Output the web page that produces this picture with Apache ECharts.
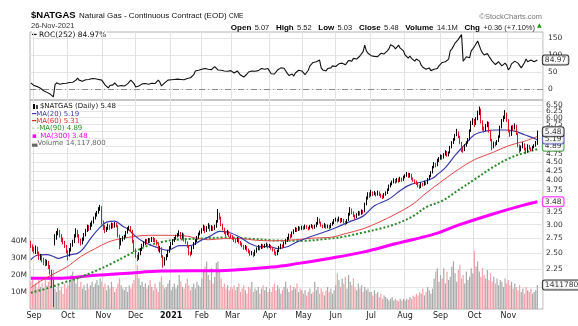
<!DOCTYPE html>
<html><head><meta charset="utf-8">
<script src="https://cdn.jsdelivr.net/npm/echarts/dist/echarts.min.js"></script>
<style>html,body{margin:0;padding:0;background:#fff}#c{width:578px;height:326px}</style>
</head><body><div id="c"></div>
<script>
// ---- categories (trading days per month, Aug-2020 .. Nov-2021) ----
const monthLabels = ['Aug','Sep','Oct','Nov','Dec','2021','Feb','Mar','Apr','May','Jun','Jul','Aug','Sep','Oct','Nov'];
const tradingDays = [2,21,22,20,22,19,19,23,21,20,22,21,22,21,21,19];
const padDays = 3;

// ---- daily candles: [open, high, low, close] ----
const ohlc = [
[2.66,2.70,2.58,2.62],[2.60,2.64,2.52,2.55],[2.56,2.60,2.49,2.52],[2.50,2.62,2.48,2.58],[2.58,2.60,2.47,2.50],
[2.49,2.52,2.39,2.42],[2.41,2.48,2.38,2.45],[2.46,2.47,2.35,2.38],[2.39,2.42,2.31,2.35],[2.36,2.40,2.29,2.32],
[2.31,2.39,2.30,2.36],[2.35,2.37,2.25,2.28],[2.29,2.31,2.17,2.22],[2.20,2.24,2.00,2.05],[2.06,2.10,1.76,1.88],
[2.66,2.82,2.62,2.78],[2.76,2.88,2.72,2.85],[2.84,2.93,2.80,2.88],[2.87,2.90,2.76,2.80],[2.79,2.82,2.68,2.72],
[2.73,2.76,2.64,2.68],[2.67,2.70,2.58,2.62],[2.61,2.63,2.49,2.52],[2.51,2.54,2.38,2.45],[2.46,2.58,2.44,2.55],
[2.56,2.66,2.52,2.62],[2.63,2.72,2.60,2.68],[2.70,2.82,2.66,2.78],[2.79,2.93,2.76,2.88],[2.87,2.90,2.76,2.80],
[2.78,2.82,2.66,2.70],[2.71,2.74,2.62,2.66],[2.67,2.76,2.64,2.72],[2.73,2.84,2.70,2.80],[2.81,2.92,2.78,2.88],
[2.89,3.00,2.86,2.96],[2.95,2.99,2.88,2.92],[2.93,3.04,2.90,3.00],[3.01,3.08,2.96,3.05],[3.06,3.16,3.02,3.12],
[3.13,3.24,3.10,3.20],[3.21,3.28,3.16,3.25],[3.26,3.36,3.22,3.32],[3.33,3.41,3.28,3.36],[3.35,3.38,3.00,3.05],
[3.04,3.08,2.90,2.95],[2.96,2.99,2.84,2.88],[2.89,2.96,2.86,2.92],[2.93,3.02,2.90,2.98],[2.97,3.00,2.90,2.94],
[2.95,3.04,2.92,3.00],[3.00,3.03,2.93,2.96],[2.97,3.05,2.94,3.02],[3.01,3.04,2.95,2.98],[2.97,2.99,2.76,2.80],
[2.78,2.81,2.56,2.62],[2.64,2.75,2.62,2.72],[2.72,2.79,2.69,2.76],[2.77,2.81,2.72,2.78],[2.79,2.88,2.76,2.85],
[2.86,2.95,2.83,2.92],[2.93,2.98,2.89,2.95],[2.94,2.97,2.86,2.90],[2.88,2.90,2.66,2.70],[2.69,2.72,2.51,2.55],
[2.54,2.57,2.42,2.45],[2.44,2.47,2.37,2.40],[2.41,2.51,2.39,2.48],[2.49,2.58,2.46,2.55],[2.56,2.65,2.53,2.62],
[2.63,2.69,2.60,2.66],[2.67,2.73,2.63,2.70],[2.71,2.73,2.64,2.68],[2.68,2.75,2.66,2.72],[2.73,2.75,2.66,2.70],
[2.71,2.77,2.68,2.74],[2.75,2.77,2.68,2.72],[2.73,2.75,2.67,2.70],[2.71,2.72,2.62,2.65],[2.64,2.66,2.52,2.55],
[2.54,2.61,2.50,2.58],[2.57,2.59,2.42,2.45],[2.44,2.46,2.27,2.32],[2.33,2.43,2.30,2.40],[2.41,2.48,2.38,2.45],
[2.46,2.55,2.43,2.52],[2.53,2.61,2.50,2.58],[2.59,2.68,2.56,2.65],[2.66,2.73,2.63,2.70],[2.71,2.77,2.68,2.74],
[2.75,2.81,2.72,2.78],[2.79,2.84,2.76,2.80],[2.81,2.89,2.78,2.85],[2.84,2.86,2.73,2.76],[2.77,2.85,2.74,2.82],
[2.81,2.83,2.69,2.72],[2.71,2.74,2.65,2.68],[2.67,2.69,2.58,2.62],[2.61,2.63,2.46,2.50],[2.49,2.52,2.44,2.48],
[2.49,2.61,2.47,2.58],[2.59,2.68,2.56,2.65],[2.66,2.73,2.63,2.70],[2.71,2.79,2.68,2.76],[2.77,2.85,2.74,2.82],
[2.83,2.89,2.80,2.86],[2.87,2.93,2.83,2.90],[2.91,3.00,2.88,2.96],[2.95,2.98,2.84,2.88],[2.89,2.97,2.86,2.94],
[2.95,3.03,2.92,2.98],[2.97,3.00,2.87,2.90],[2.91,2.99,2.88,2.95],[2.94,2.97,2.88,2.92],[2.93,3.00,2.90,2.96],
[2.97,3.09,2.94,3.05],[3.07,3.32,3.04,3.20],[3.19,3.24,3.10,3.15],[3.13,3.16,2.97,3.00],[2.99,3.02,2.89,2.92],
[2.91,2.94,2.82,2.85],[2.84,2.87,2.78,2.82],[2.83,2.90,2.80,2.86],[2.85,2.88,2.77,2.80],[2.79,2.82,2.74,2.78],
[2.77,2.80,2.72,2.76],[2.75,2.77,2.68,2.72],[2.71,2.74,2.66,2.70],[2.71,2.77,2.68,2.74],[2.73,2.75,2.65,2.68],
[2.67,2.70,2.62,2.66],[2.65,2.67,2.59,2.62],[2.61,2.63,2.55,2.58],[2.58,2.63,2.55,2.60],[2.59,2.61,2.52,2.55],
[2.54,2.57,2.49,2.52],[2.51,2.54,2.45,2.48],[2.49,2.53,2.46,2.50],[2.49,2.51,2.43,2.46],[2.47,2.55,2.45,2.52],
[2.53,2.59,2.50,2.56],[2.57,2.63,2.54,2.60],[2.59,2.62,2.54,2.58],[2.59,2.65,2.56,2.62],[2.61,2.64,2.57,2.60],
[2.61,2.65,2.58,2.62],[2.63,2.67,2.60,2.64],[2.63,2.65,2.57,2.60],[2.61,2.65,2.58,2.62],[2.61,2.63,2.55,2.58],
[2.57,2.59,2.52,2.55],[2.54,2.56,2.47,2.50],[2.49,2.52,2.45,2.48],[2.49,2.55,2.46,2.52],[2.53,2.61,2.51,2.58],
[2.59,2.65,2.56,2.62],[2.61,2.64,2.57,2.60],[2.61,2.69,2.59,2.66],[2.67,2.73,2.64,2.70],[2.71,2.77,2.68,2.74],
[2.75,2.83,2.72,2.80],[2.79,2.82,2.74,2.78],[2.79,2.87,2.76,2.84],[2.85,2.91,2.82,2.88],[2.89,2.95,2.86,2.92],
[2.91,2.94,2.86,2.90],[2.91,2.97,2.88,2.94],[2.93,2.96,2.89,2.92],[2.93,2.98,2.90,2.95],[2.94,2.97,2.90,2.93],
[2.94,3.00,2.91,2.97],[2.96,2.99,2.92,2.95],[2.94,2.96,2.89,2.92],[2.93,2.99,2.91,2.96],[2.97,3.01,2.94,2.98],
[2.97,2.99,2.91,2.94],[2.95,3.00,2.92,2.97],[2.98,3.05,2.95,3.02],[3.03,3.15,3.00,3.10],[3.09,3.12,3.02,3.05],
[3.04,3.06,2.96,2.98],[2.97,3.00,2.93,2.96],[2.97,3.03,2.94,3.00],[2.99,3.01,2.92,2.95],[2.96,3.00,2.93,2.97],
[2.96,2.99,2.91,2.94],[2.95,3.03,2.93,3.00],[3.01,3.06,2.98,3.03],[3.04,3.11,3.01,3.08],[3.09,3.14,3.06,3.10],
[3.09,3.12,3.04,3.08],[3.09,3.16,3.06,3.12],[3.11,3.13,3.03,3.06],[3.07,3.13,3.05,3.10],[3.09,3.11,3.02,3.05],
[3.04,3.07,2.99,3.02],[3.03,3.11,3.01,3.08],[3.10,3.24,3.07,3.20],[3.21,3.36,3.18,3.30],[3.29,3.33,3.21,3.25],
[3.24,3.27,3.15,3.18],[3.17,3.20,3.10,3.15],[3.16,3.23,3.13,3.20],[3.21,3.28,3.18,3.25],[3.24,3.27,3.18,3.22],
[3.23,3.31,3.20,3.28],[3.27,3.30,3.21,3.25],[3.27,3.46,3.25,3.42],[3.43,3.60,3.40,3.56],[3.57,3.70,3.53,3.65],
[3.64,3.70,3.57,3.62],[3.63,3.76,3.60,3.70],[3.69,3.72,3.61,3.66],[3.67,3.73,3.63,3.68],[3.67,3.70,3.60,3.64],
[3.65,3.74,3.62,3.70],[3.69,3.72,3.61,3.65],[3.64,3.67,3.57,3.62],[3.61,3.64,3.54,3.58],[3.59,3.68,3.56,3.65],
[3.66,3.72,3.62,3.68],[3.69,3.79,3.66,3.75],[3.76,3.89,3.73,3.85],[3.86,3.94,3.82,3.90],[3.91,3.99,3.87,3.95],
[3.96,4.05,3.92,4.00],[3.99,4.03,3.91,3.96],[3.97,4.06,3.94,4.02],[4.01,4.05,3.94,3.98],[3.99,4.09,3.96,4.05],
[4.04,4.07,3.96,4.00],[4.01,4.12,3.98,4.08],[4.09,4.16,4.05,4.12],[4.13,4.22,4.09,4.18],[4.17,4.20,4.06,4.10],
[4.11,4.19,4.07,4.15],[4.14,4.17,4.01,4.05],[4.04,4.07,3.96,4.00],[3.99,4.02,3.91,3.95],[3.96,3.99,3.88,3.92],
[3.91,3.94,3.82,3.86],[3.85,3.89,3.78,3.82],[3.83,3.94,3.80,3.90],[3.89,3.93,3.84,3.88],[3.89,3.99,3.86,3.95],
[3.94,3.97,3.88,3.92],[3.93,4.06,3.90,4.02],[4.03,4.14,4.00,4.10],[4.11,4.24,4.08,4.20],[4.21,4.39,4.18,4.35],
[4.36,4.50,4.32,4.45],[4.44,4.48,4.35,4.40],[4.41,4.60,4.38,4.55],[4.56,4.65,4.50,4.60],[4.61,4.73,4.57,4.68],
[4.67,4.71,4.57,4.62],[4.63,4.77,4.60,4.72],[4.73,4.86,4.69,4.80],[4.79,4.83,4.66,4.70],[4.71,4.82,4.67,4.78],
[4.79,5.00,4.76,4.95],[4.96,5.15,4.92,5.10],[5.11,5.26,5.06,5.20],[5.21,5.40,5.17,5.35],[5.36,5.58,5.32,5.45],
[5.44,5.49,5.25,5.30],[5.29,5.33,5.05,5.10],[5.09,5.13,4.80,4.90],[4.91,4.97,4.78,4.85],[4.86,5.05,4.83,5.00],
[5.01,5.15,4.97,5.10],[5.11,5.26,5.07,5.20],[5.21,5.56,5.18,5.50],[5.51,5.88,5.47,5.80],[5.81,5.98,5.72,5.90],
[5.89,5.95,5.65,5.75],[5.76,6.02,5.72,5.95],[5.96,6.28,5.90,6.20],[6.21,6.45,6.10,6.35],[6.30,6.36,5.78,5.85],
[5.84,5.90,5.52,5.60],[5.61,5.66,5.45,5.55],[5.56,5.76,5.50,5.70],[5.71,5.86,5.64,5.80],[5.79,5.84,5.45,5.50],
[5.49,5.53,5.15,5.20],[5.19,5.23,4.86,4.95],[4.96,5.14,4.92,5.10],[5.09,5.13,4.98,5.05],[5.06,5.19,5.02,5.15],
[5.16,5.35,5.12,5.30],[5.31,5.70,5.27,5.65],[5.66,5.95,5.60,5.90],[5.91,6.08,5.84,6.00],[6.01,6.30,5.95,6.15],
[6.14,6.20,5.84,5.90],[5.89,5.94,5.45,5.50],[5.49,5.55,5.30,5.35],[5.36,5.70,5.33,5.65],[5.64,5.72,5.52,5.60],
[5.61,5.78,5.56,5.70],[5.69,5.73,5.36,5.40],[5.39,5.43,4.95,5.00],[4.99,5.04,4.78,4.85],[4.86,5.01,4.82,4.95],
[4.96,5.12,4.92,5.05],[5.04,5.08,4.85,4.90],[4.89,4.94,4.74,4.80],[4.81,5.05,4.78,5.00],[4.99,5.03,4.88,4.92],
[4.91,4.95,4.82,4.88],[4.89,5.00,4.85,4.95],[4.96,5.05,4.92,5.00],[5.01,5.16,4.97,5.12],[5.07,5.52,5.03,5.48]
];

// ---- daily volume, millions ----
const volumeM = [
16,18,14,15,12,17,13,15,12,18,14,16,19,21,23,
12,10,14,11,13,9,15,12,
14,17,20,22,18,15,19,13,16,12,14,11,15,
12,14,16,13,15,17,14,18,16,
13,15,11,14,12,16,13,10,12,15,18,14,12,11,13,10,14,12,15,17,
20,26,18,14,16,13,15,12,14,17,13,11,15,12,10,16,19,14,12,13,15,17,
11,13,15,12,14,20,16,13,12,15,18,14,11,13,15,12,16,14,13,
18,22,25,28,20,17,24,15,19,27,28,22,18,13,15,12,14,11,13,
12,14,11,13,15,10,12,14,11,9,13,12,16,10,12,11,13,9,12,14,11,13,10,
12,10,13,15,11,14,12,9,11,13,16,12,10,14,11,13,12,15,10,12,11,
9,11,8,10,12,9,10,16,11,13,9,12,10,8,11,13,10,12,9,11,
14,21,17,13,18,15,19,12,20,16,14,18,13,11,15,12,14,10,13,11,12,10,
10,8,11,9,10,7,9,6,8,7,6,5,6,7,5,6,5,4.5,6,5,6,
5,6,5.5,7,6,8,7,9,8,10,9,12,8,10,13,11,9,12,18,22,24,16,
20,18,24,15,22,17,19,25,28,21,16,23,26,18,20,15,22,17,19,24,21,
34,25,28,22,19,24,20,18,23,17,21,16,19,15,18,14,17,16,13,18,15,
17,14,16,12,15,13,11,14,10,12,9,13,11,10,12,9,10,11,14.1178
];

// ---- ROC(252), percent ----
const roc = [
18,14,10,8,7,5,2,-2,-5,-8, -10,-12,-15,-18,-23,12,18,15,14,18,
16,20,17,14,19,22,20,24,26,32, 26,24,23,25,27,30,28,33,31,35,
30,32,28,30,26,24,12,8,3,10, 14,12,18,15,8,9,10,8,9,11,
15,20,26,22,16,6,3,9,12,15, 13,16,18,14,15,17,13,16,18,26,
20,9,14,18,22,26,25,27,30,28, 31,29,32,28,30,27,29,31,28,33,
35,42,53,50,55,53,58,55,60,56, 58,62,57,60,66,68,56,52,55,50,
53,48,52,49,54,51,47,50,53,48, 41,38,35,40,44,50,47,53,56,52,
49,54,51,60,62,58,63,60,55,45, 41,44,50,56,60,62,58,61,57,46,
40,36,44,38,47,52,55,50,53,48, 42,41,55,68,72,78,74,80,82,85,
62,56,58,53,60,64,62,68,65,66, 71,74,72,76,73,71,75,84,88,82,
90,94,88,92,97,96,110,129,112,105, 100,98,94,96,91,95,100,105,110,103,
108,112,118,130,135,125,118,122,129,120, 116,112,100,95,91,97,90,86,82,88,
85,82,70,64,60,58,56,62,54,53, 58,62,60,68,72,78,74,80,82,88,
112,118,126,135,140,146,150,160,82,88, 95,100,92,112,118,125,129,141,128,115,
106,100,98,104,96,91,82,78,72,76, 80,74,68,72,76,70,56,62,74,78,
82,80,76,72,62,66,77,88,80,83, 85,82,80,83,84.97
];

// ---- moving averages: [day index, value] ----
const ma20 = [[0,2.39],[4,2.46],[10,2.47],[14,2.44],[17,2.41],[21,2.44],[25,2.47],[29,2.49],[32,2.55],[37,2.74],[42,2.92],[47,3.05],[52,3.07],[57,2.97],[60,2.92],[65,2.78],[70,2.68],[75,2.62],[80,2.57],[85,2.54],[92,2.62],[99,2.62],[105,2.70],[111,2.78],[117,2.87],[123,2.85],[130,2.76],[136,2.65],[142,2.60],[148,2.60],[153,2.57],[159,2.60],[165,2.68],[172,2.76],[181,2.85],[189,2.94],[197,3.05],[206,3.17],[213,3.39],[222,3.54],[230,3.77],[236,3.90],[243,3.96],[249,4.05],[252,4.15],[257,4.34],[263,4.70],[269,5.03],[275,5.37],[282,5.50],[288,5.54],[294,5.54],[300,5.50],[306,5.37],[312,5.25],[314,5.19]];
const ma60 = [[0,1.99],[6,2.08],[15,2.19],[23,2.29],[31,2.44],[40,2.57],[48,2.68],[56,2.74],[65,2.78],[73,2.80],[81,2.80],[95,2.79],[104,2.74],[110,2.72],[120,2.74],[130,2.74],[140,2.71],[150,2.70],[164,2.72],[175,2.75],[185,2.76],[195,2.83],[206,2.92],[216,3.05],[226,3.21],[237,3.43],[245,3.68],[255,3.98],[265,4.29],[275,4.57],[286,4.78],[296,5.00],[306,5.15],[314,5.31]];
const ma90 = [[0,1.93],[11,1.99],[19,2.05],[29,2.12],[40,2.22],[50,2.33],[60,2.46],[71,2.60],[81,2.68],[90,2.72],[105,2.74],[121,2.76],[135,2.74],[150,2.71],[167,2.70],[185,2.74],[195,2.78],[206,2.85],[216,2.92],[226,3.01],[237,3.17],[245,3.36],[255,3.50],[265,3.75],[275,4.02],[286,4.34],[296,4.60],[306,4.78],[314,4.89]];
const ma300 = [[0,2.12],[19,2.12],[40,2.16],[60,2.19],[81,2.22],[121,2.23],[150,2.28],[165,2.33],[185,2.41],[206,2.51],[226,2.65],[251,2.83],[265,2.99],[286,3.21],[306,3.41],[314,3.48]];

// ---- axis ticks ----
const priceTicks = [2.00,2.25,2.50,2.75,3.00,3.25,3.50,3.75,4.00,4.25,4.50,4.75,5.00,5.25,5.50,5.75,6.00,6.25,6.50];
const priceLabelsA = [2.00,2.50,3.00,3.75,4.25,4.75,6.00,6.50];
const priceLabelsB = [2.25,2.75,3.25,4.00,4.50,5.75,6.25];
const rocTicks = [0,50,100,150];
const volTicks = [10,20,30,40];
const priceRange = [1.7365, 6.728];
const rocRange = [-32.4, 167.6];
const volRange = [0, 122.9];

// ---- build ----
const L = Math.log;
const cats = []; const monthStart = {}; let idx = 0;
tradingDays.forEach((n, m) => { monthStart[idx] = monthLabels[m]; for (let k = 0; k < n; k++) { cats.push(String(idx)); idx++; } });
for (let k = 0; k < padDays; k++) cats.push('p' + k);
const isMonth = i => i > 0 && monthStart[i] !== undefined;
const N = ohlc.length;
const last = ohlc[N - 1];
const lastOf = a => a[a.length - 1][1];
const FF = '"DejaVu Sans", Verdana, sans-serif';
const HF = '"Liberation Sans", Arial, sans-serif';

const boxLabel = (txt, border, color) => ({
  show: true, position: 'right', distance: 5, formatter: txt,
  fontSize: 7.5, fontFamily: FF, color: color || '#000', backgroundColor: '#fff',
  borderColor: border, borderWidth: 1, borderRadius: 2, padding: [1, 2, 0, 2], lineHeight: 8
});
const axLab = { fontSize: 7.5, lineHeight: 5, fontFamily: FF, color: '#333', showMaxLabel: true, showMinLabel: true, hideOverlap: false };
const priceAxis = (labels, split) => ({
  gridIndex: 1, type: 'value', position: 'right', min: L(priceRange[0]), max: L(priceRange[1]),
  axisLine: { show: false }, axisTick: { show: false, customValues: (split ? priceTicks : labels).map(L) },
  axisLabel: Object.assign({ customValues: labels.map(L), formatter: v => Math.exp(v).toFixed(2), margin: 3 }, axLab),
  splitLine: { show: split, lineStyle: { color: '#e6e6e6' } }
});

const chart = echarts.init(document.getElementById('c'), null, { renderer: 'canvas' });
const mk = (name, data, color, width, type, z) => ({
  name, type: 'line', xAxisIndex: 1, yAxisIndex: 1, data: data.map(([i, v]) => [i, L(v)]),
  smooth: 0.35, showSymbol: false, symbol: 'none', z: z || 3,
  lineStyle: { color, width, type: type || 'solid' }
});
const lg = (text, top, color, left) => ({ type: 'text', left: left || 32, top, z: 50,
  style: { text, font: '7px ' + FF, fill: color, backgroundColor: '#fff' } });

const option = {
  animation: false,
  backgroundColor: '#fff',
  grid: [
    { left: 30, right: 35, top: 32, height: 68, show: true, borderColor: '#b4b4b4', borderWidth: 1 },
    { left: 30, right: 35, top: 100, bottom: 17, show: true, borderColor: '#b4b4b4', borderWidth: 1 }
  ],
  xAxis: [
    { gridIndex: 0, type: 'category', data: cats, boundaryGap: true, axisLine: { show: false }, axisTick: { show: false },
      axisLabel: { show: false }, splitLine: { show: true, interval: (i) => isMonth(i), lineStyle: { color: '#e2e2e2', width: 1 } } },
    { gridIndex: 1, type: 'category', data: cats, boundaryGap: true, axisLine: { show: false }, axisTick: { show: false },
      splitLine: { show: true, interval: (i) => isMonth(i), lineStyle: { color: '#e2e2e2', width: 1 } },
      axisLabel: { show: true, interval: (i) => isMonth(i), margin: 3, fontSize: 8, fontFamily: FF, color: '#222',
        formatter: (v, i) => { const t = monthStart[i]; return t === '2021' ? '{b|2021}' : (t || ''); },
        rich: { b: { fontWeight: 'bold', fontSize: 8, fontFamily: FF, color: '#111' } } } }
  ],
  yAxis: [
    { gridIndex: 0, type: 'value', position: 'right', min: rocRange[0], max: rocRange[1],
      axisLine: { show: false }, axisTick: { show: false, customValues: rocTicks },
      axisLabel: Object.assign({ customValues: rocTicks, margin: 5 }, axLab),
      splitLine: { show: true, lineStyle: { color: '#e6e6e6' } } },
    priceAxis(priceLabelsA, true),
    { gridIndex: 1, type: 'value', position: 'left', min: volRange[0], max: volRange[1],
      axisLine: { show: false }, axisTick: { show: false, customValues: volTicks },
      axisLabel: Object.assign({ customValues: volTicks, formatter: v => v + 'M', margin: 3 }, axLab),
      splitLine: { show: false } },
    priceAxis(priceLabelsB, false)
  ],
  series: [
    { name: 'ROC', type: 'line', xAxisIndex: 0, yAxisIndex: 0, data: roc, showSymbol: false, symbol: 'none', z: 3,
      lineStyle: { color: '#111', width: 1.1 },
      markLine: { silent: true, symbol: 'none', label: { show: false }, lineStyle: { color: '#8a8a8a', type: [6, 3, 1, 3], width: 1 }, data: [{ yAxis: 0 }] } },
    { type: 'scatter', xAxisIndex: 0, yAxisIndex: 0, data: [[N - 1, roc[N - 1]]], symbolSize: 1, itemStyle: { color: 'rgba(0,0,0,0)' }, z: 6,
      label: boxLabel(roc[N - 1].toFixed(2), '#000') },
    { name: 'Volume', type: 'bar', xAxisIndex: 1, yAxisIndex: 2, barWidth: 1.2, z: 1,
      data: volumeM.map((v, i) => ({ value: v, itemStyle: { color: ohlc[i][3] < ohlc[i][0] ? '#f2a2aa' : '#a9a9a9' } })) },
    mk('MA300', ma300, '#ff00ff', 3, 'solid', 3),
    mk('MA90', ma90, '#2c8a2c', 2, [2, 2], 3),
    mk('MA60', ma60, '#e04848', 1, 'solid', 3),
    mk('MA20', ma20, '#3a3aaa', 1.2, 'solid', 3),
    { name: 'NATGAS', type: 'candlestick', xAxisIndex: 1, yAxisIndex: 1, barWidth: 1, z: 4,
      data: ohlc.map(r => [L(r[0]), L(r[3]), L(r[2]), L(r[1])]),
      itemStyle: { color: '#000', color0: '#e0102a', borderColor: '#000', borderColor0: '#e0102a', borderWidth: 1 } },
    { type: 'scatter', xAxisIndex: 1, yAxisIndex: 1, symbolSize: 1, itemStyle: { color: 'rgba(0,0,0,0)' }, z: 7,
      data: [
        { value: [N - 1, L(lastOf(ma300))], label: boxLabel(lastOf(ma300).toFixed(2), '#ff00ff') },
        { value: [N - 1, L(lastOf(ma90))], label: Object.assign(boxLabel(lastOf(ma90).toFixed(2), '#2c8a2c'), { offset: [0, -3] }) },
        { value: [N - 1, L(lastOf(ma20))], label: Object.assign(boxLabel(lastOf(ma20).toFixed(2), '#3a3aaa'), { offset: [0, -1] }) },
        { value: [N - 1, L(last[3])], label: boxLabel(last[3].toFixed(2), '#000') }
      ] },
    { type: 'scatter', xAxisIndex: 1, yAxisIndex: 2, symbolSize: 1, itemStyle: { color: 'rgba(0,0,0,0)' }, z: 7,
      data: [[N - 1, volumeM[N - 1]]], label: boxLabel('14117800', '#000') }
  ],
  graphic: [
    { type: 'text', left: 31, top: 10, style: { text: '$NATGAS', font: 'bold 9.5px ' + HF, fill: '#000' } },
    { type: 'text', left: 79, top: 11.5, style: { text: 'Natural Gas - Continuous Contract (EOD)', font: '8px ' + HF, fill: '#111' } },
    { type: 'text', left: 229, top: 12.5, style: { text: 'CME', font: '6.5px ' + HF, fill: '#111' } },
    { type: 'text', left: 31, top: 22, style: { text: '26-Nov-2021', font: '7.5px ' + HF, fill: '#333' } },
    { type: 'text', right: 36, top: 13, style: { text: '\u00a9StockCharts.com', font: '7.5px ' + HF, fill: '#777' } },
    { type: 'text', right: 43, top: 21.5, style: {
        text: '{b|Open} {v|' + last[0].toFixed(2) + '}  {b|High} {v|' + last[1].toFixed(2) + '}  {b|Low} {v|' + last[2].toFixed(2) +
              '}  {b|Close} {v|' + last[3].toFixed(2) + '}  {b|Volume} {v|14.1M}  {b|Chg} {v|+0.36 (+7.10%)}',
        rich: { b: { font: 'bold 8px ' + HF, fill: '#000' }, v: { font: '7.5px ' + HF, fill: '#222' } } } },
    { type: 'text', left: 537, top: 22, style: { text: '\u25B2', font: '6px ' + FF, fill: '#12a012' } },
    { type: 'text', left: 32, top: 31, style: { text: '\u2501 ROC(252) ' + roc[N - 1].toFixed(2) + '%', font: '7.5px ' + FF, fill: '#111', backgroundColor: '#fff' } },
    { type: 'rect', left: 33, top: 104, z: 51, shape: { width: 2, height: 5 }, style: { fill: '#000' } },
    { type: 'rect', left: 36, top: 105, z: 51, shape: { width: 2, height: 4 }, style: { fill: '#444' } },
    lg('    $NATGAS (Daily) ' + last[3].toFixed(2), 103, '#111', 31),
    lg('\u2501MA(20) ' + lastOf(ma20).toFixed(2), 110.5, '#3a3aaa'),
    lg('\u2501MA(60) ' + lastOf(ma60).toFixed(2), 117.8, '#e02a2a'),
    lg('- -MA(90) ' + lastOf(ma90).toFixed(2), 125.1, '#2c8a2c'),
    lg('\u25aa\u02d9MA(300) ' + lastOf(ma300).toFixed(2), 132.4, '#ff00ff'),
    lg('\u2583Volume 14,117,800', 139.7, '#666')
  ]
};
chart.setOption(option);
</script>
</body></html>
